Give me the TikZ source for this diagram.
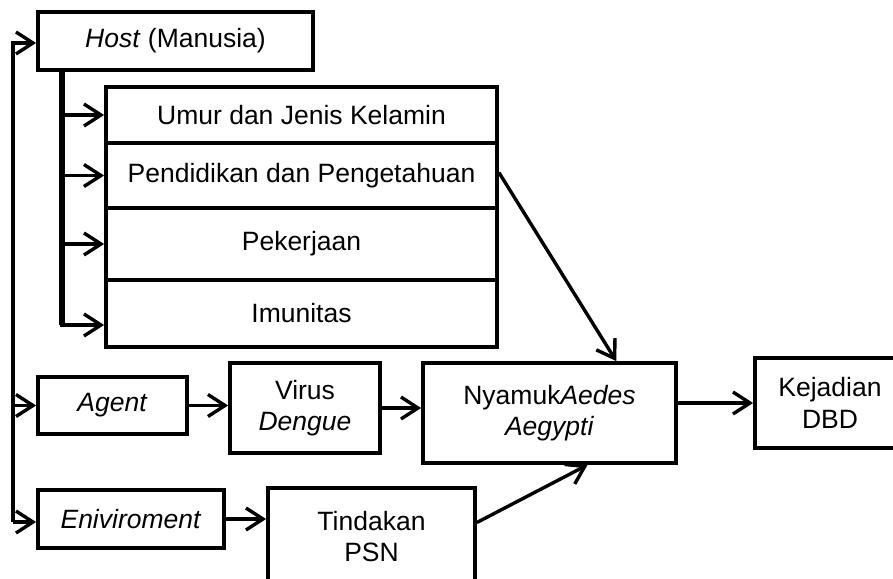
\documentclass[tikz,border=0pt]{standalone}
\usepackage{fontspec}
\setmainfont{Liberation Sans}
\usetikzlibrary{arrows.meta,calc}
\begin{document}
\begin{tikzpicture}[x=1pt,y=-1pt,
  box/.style={draw,line width=3.8pt,inner sep=0pt,align=center,
    font=\fontsize{26.5}{31.5}\selectfont},
  arr/.style={line width=3.4pt,-{Straight Barb[length=17pt,width=22pt]}},
  thick line/.style={line width=6pt}]
\clip (0,0) rectangle (893,578);
% nodes
\node[box,minimum width=275pt,minimum height=58pt] (host) at (175.5,41) {\textit{Host} (Manusia)};
\node[box,minimum width=391pt,minimum height=56pt] (umur) at (301.5,115) {Umur dan Jenis Kelamin};
\node[box,minimum width=391pt,minimum height=65pt] (pend) at (301.5,175.5) {Pendidikan dan Pengetahuan};
\node[box,minimum width=391pt,minimum height=72pt] (pek) at (301.5,244) {Pekerjaan};
\node[box,minimum width=391pt,minimum height=67pt] (imun) at (301.5,313.5) {Imunitas};
\node[box,minimum width=149pt,minimum height=57pt] (agent) at (112.5,405.5) {\textit{Agent}};
\node[box,minimum width=150pt,minimum height=90pt] (virus) at (305,408) {Virus\\\textit{Dengue}};
\node[box,minimum width=253pt,minimum height=100pt] (nyamuk) at (549.5,413) {Nyamuk\textit{Aedes}\\\textit{Aegypti}};
\node[box,minimum width=150pt,minimum height=90pt] (kej) at (830,403) {Kejadian\\DBD};
\node[box,minimum width=186pt,minimum height=58pt] (env) at (131,519) {\textit{Eniviroment}};
\node[box,minimum width=207pt,minimum height=97pt] (tind) at (371.5,536.5) {Tindakan\\PSN};
% coordinates
\coordinate (ltop) at (13,43);
\coordinate (lbot) at (13,522);
\coordinate (tk) at (62,325);
% left thin line
\draw[arr] (lbot) -- (ltop) -- (ltop -| host.west);
\draw[arr] (lbot) -- (lbot -| env.west);
\draw[arr] (ltop |- agent.west) -- (agent.west);
% thick host line
\draw[thick line] (host.south -| tk) -- (tk);
\draw[arr] (tk |- umur.west) -- (umur.west);
\draw[arr] (tk |- pend.west) -- (pend.west);
\draw[arr] (tk |- pek.west) -- (pek.west);
\draw[arr] ([xshift=-2pt]tk) -- (tk -| imun.west);
% flow
\draw[arr] (agent.east) -- (agent.east -| virus.west);
\draw[arr] (virus.east) -- (virus.east -| nyamuk.west);
\draw[arr] (nyamuk.east |- kej.west) -- (kej.west);
\draw[arr] (env.east) -- (env.east -| tind.west);
\draw[arr] ([yshift=3pt]pend.east) -- ($(nyamuk.north west)!0.76!(nyamuk.north east)$);
\draw[arr] ([yshift=14pt]tind.east) -- ($(nyamuk.south west)!0.648!(nyamuk.south east)$);
\end{tikzpicture}
\end{document}
